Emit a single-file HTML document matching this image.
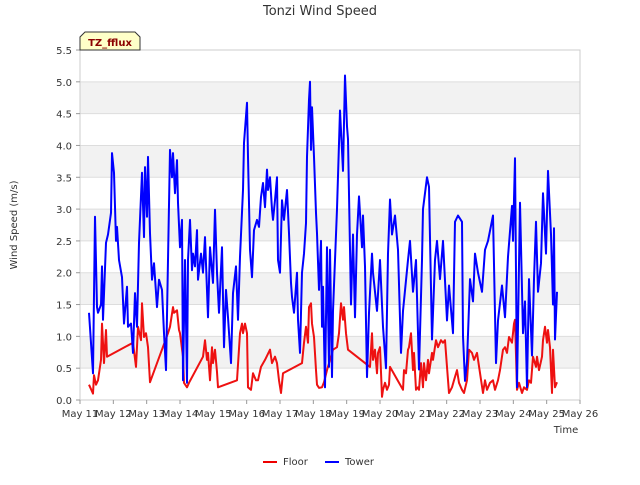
<!DOCTYPE html>
<html><head><meta charset="utf-8"><style>
body{margin:0;background:#fff;}
svg text{font-family:"DejaVu Sans","Liberation Sans",sans-serif;}
</style></head><body>
<svg id="chart" width="640" height="480" xmlns="http://www.w3.org/2000/svg">
<text x="320" y="15" text-anchor="middle" font-size="13" fill="#333">Tonzi Wind Speed</text>
<g id="bands"></g>
<g id="grid"></g>
<rect x="80" y="50" width="500" height="350" fill="none" stroke="#ccc"/>
<g id="yticks"></g>
<g id="xticks"></g>
<g id="series"></g>
<text transform="translate(17,225) rotate(-90)" text-anchor="middle" font-size="10" fill="#333">Wind Speed (m/s)</text>
<text x="566" y="433" text-anchor="middle" font-size="10" fill="#333">Time</text>
<g>
<path d="M80,50 L80,37 L85,32 L135,32 L140,37 L140,50 Z" fill="#ffffc8" stroke="#333"/>
<text x="110" y="46" text-anchor="middle" font-size="10" font-weight="bold" fill="#8b0000">TZ_fflux</text>
</g>
<g>
<g>
<line x1="263" y1="462" x2="277" y2="462" stroke="#e00" stroke-width="2"/>
<text x="283" y="465" font-size="10" fill="#333">Floor</text></g>
<g>
<line x1="325" y1="462" x2="339" y2="462" stroke="#00f" stroke-width="2"/>
<text x="345" y="465" font-size="10" fill="#333">Tower</text></g>
</g>
</svg>
<script>
const xTickLabels=["May 11","May 12","May 13","May 14","May 15","May 16","May 17","May 18","May 19","May 20","May 21","May 22","May 23","May 24","May 25","May 26"];
const yTickValues=[0,0.5,1,1.5,2,2.5,3,3.5,4,4.5,5,5.5];
const towerT=[11.27,11.39,11.45,11.51,11.54,11.63,11.66,11.69,11.78,11.84,11.93,11.96,12.02,12.08,12.11,12.17,12.26,12.32,12.41,12.44,12.53,12.59,12.65,12.71,12.77,12.86,12.92,12.95,13.01,13.04,13.10,13.16,13.22,13.31,13.37,13.46,13.52,13.58,13.64,13.70,13.76,13.79,13.85,13.91,13.94,14.00,14.06,14.09,14.15,14.21,14.24,14.30,14.36,14.39,14.45,14.51,14.54,14.63,14.69,14.75,14.84,14.90,14.99,15.05,15.11,15.17,15.26,15.32,15.38,15.44,15.53,15.59,15.68,15.74,15.80,15.89,15.92,16.01,16.04,16.10,16.16,16.22,16.31,16.37,16.43,16.49,16.55,16.61,16.64,16.70,16.76,16.79,16.85,16.91,16.94,17.00,17.06,17.12,17.21,17.27,17.33,17.36,17.42,17.51,17.54,17.60,17.66,17.72,17.78,17.81,17.87,17.90,17.93,17.96,18.02,18.08,18.11,18.17,18.23,18.26,18.29,18.35,18.41,18.47,18.50,18.56,18.59,18.71,18.80,18.89,18.95,19.01,19.04,19.13,19.19,19.25,19.31,19.37,19.46,19.49,19.55,19.61,19.67,19.76,19.79,19.91,20.00,20.09,20.18,20.24,20.30,20.36,20.45,20.54,20.63,20.69,20.84,20.90,20.99,21.08,21.17,21.26,21.29,21.41,21.47,21.56,21.65,21.71,21.80,21.89,22.01,22.07,22.19,22.25,22.34,22.46,22.49,22.55,22.61,22.70,22.79,22.85,22.94,23.06,23.15,23.24,23.39,23.48,23.54,23.66,23.75,23.84,23.96,23.99,24.05,24.11,24.20,24.29,24.35,24.41,24.47,24.56,24.62,24.68,24.74,24.83,24.89,24.98,25.04,25.13,25.19,25.22,25.25,25.31];
const towerV=[1.37,0.42,2.88,1.46,1.37,1.5,2.1,1.26,2.47,2.6,2.94,3.88,3.57,2.5,2.72,2.2,1.93,1.2,1.78,1.15,1.2,0.74,1.68,1.15,2.47,3.57,2.56,3.66,2.88,3.82,2.62,1.89,2.15,1.46,1.89,1.73,1.05,0.47,2.2,3.93,3.5,3.88,3.25,3.77,3.1,2.4,2.83,0.31,2.2,0.27,2.2,2.83,2.04,2.3,2.1,2.67,1.89,2.3,2.0,2.56,1.3,2.4,1.84,2.99,2.0,1.37,2.4,0.83,1.73,1.3,0.58,1.68,2.1,1.26,2.25,3.3,4.04,4.67,3.82,2.36,1.93,2.67,2.83,2.72,3.19,3.41,3.03,3.62,3.3,3.5,2.99,2.83,3.14,3.5,2.2,2.0,3.14,2.83,3.3,2.62,1.84,1.62,1.37,2.0,1.26,0.74,2.0,2.3,2.78,3.82,4.72,5.0,3.93,4.6,3.82,2.94,2.62,1.73,2.5,1.15,1.78,0.2,2.4,0.52,2.36,0.36,1.4,3.0,4.55,3.6,5.1,4.3,4.1,1.5,2.6,1.3,2.6,3.2,2.4,2.9,2.1,0.36,1.37,2.3,2.0,1.4,2.2,1.15,0.5,2.3,3.15,2.6,2.9,2.36,0.74,1.4,2.2,2.5,1.7,2.2,0.48,2.2,3.0,3.5,3.35,0.95,2.2,2.5,1.9,2.5,1.25,1.8,1.05,2.8,2.9,2.8,1.0,0.3,0.6,1.9,1.55,2.3,2.0,1.7,2.36,2.5,2.9,0.58,1.25,1.8,1.3,2.25,3.05,2.5,3.8,0.2,3.1,1.05,1.55,0.2,1.9,0.7,1.9,2.8,1.7,2.15,3.25,2.3,3.6,2.6,1.5,2.7,0.95,1.7];
const floorT=[11.27,11.39,11.42,11.48,11.54,11.63,11.66,11.72,11.78,11.81,12.59,12.68,12.74,12.83,12.86,12.92,12.98,13.04,13.10,13.64,13.70,13.79,13.82,13.91,13.97,14.00,14.09,14.12,14.21,14.27,14.69,14.75,14.81,14.84,14.90,14.96,14.99,15.05,15.11,15.14,15.71,15.80,15.86,15.89,15.95,16.01,16.04,16.13,16.19,16.28,16.34,16.43,16.55,16.70,16.76,16.85,16.91,16.97,17.03,17.09,17.66,17.72,17.78,17.84,17.87,17.93,17.96,18.02,18.08,18.11,18.17,18.26,18.32,18.41,18.50,18.59,18.71,18.77,18.83,18.89,18.92,18.98,19.04,19.70,19.76,19.79,19.85,19.91,19.94,20.00,20.06,20.09,20.15,20.21,20.27,20.30,20.69,20.72,20.78,20.84,20.87,20.93,20.99,21.02,21.08,21.14,21.17,21.23,21.29,21.32,21.38,21.44,21.47,21.56,21.59,21.68,21.74,21.83,21.89,21.95,22.01,22.07,22.16,22.22,22.31,22.37,22.46,22.52,22.61,22.67,22.76,22.82,22.91,23.09,23.15,23.21,23.30,23.39,23.45,23.54,23.60,23.69,23.75,23.81,23.87,23.96,24.02,24.05,24.11,24.17,24.26,24.32,24.41,24.47,24.53,24.59,24.68,24.71,24.77,24.86,24.89,24.95,25.01,25.04,25.10,25.16,25.19,25.25,25.31];
const floorV=[0.24,0.1,0.39,0.24,0.31,0.63,1.2,0.58,1.1,0.68,0.9,0.52,1.15,0.94,1.52,0.99,1.05,0.83,0.28,1.05,1.15,1.46,1.37,1.41,1.1,1.05,0.68,0.27,0.2,0.27,0.68,0.94,0.63,0.74,0.31,0.83,0.58,0.79,0.44,0.2,0.31,1.05,1.2,1.05,1.2,1.05,0.2,0.16,0.42,0.31,0.31,0.52,0.63,0.79,0.58,0.68,0.58,0.31,0.11,0.42,0.58,0.9,1.15,0.9,1.46,1.52,1.2,0.99,0.47,0.24,0.19,0.2,0.28,0.47,0.63,0.79,0.83,1.05,1.52,1.26,1.46,1.05,0.79,0.52,1.05,0.63,0.79,0.42,0.74,0.83,0.05,0.16,0.27,0.16,0.24,0.52,0.16,0.47,0.42,0.79,0.83,1.05,0.47,0.74,0.16,0.2,0.16,0.58,0.2,0.58,0.31,0.63,0.42,0.74,0.63,0.94,0.83,0.94,0.9,0.94,0.52,0.11,0.2,0.31,0.47,0.27,0.16,0.11,0.31,0.79,0.74,0.63,0.74,0.11,0.31,0.16,0.27,0.31,0.16,0.31,0.47,0.79,0.83,0.74,0.99,0.9,1.2,1.26,0.16,0.27,0.11,0.2,0.16,0.31,0.27,0.68,0.52,0.68,0.47,0.68,0.94,1.15,0.9,1.1,0.83,0.11,0.79,0.2,0.28];

const NS='http://www.w3.org/2000/svg';
const X0=80,X1=580,Y0=400,Y1=50;
const xScale=d=>X0+(d-11)/15*(X1-X0);
const yScale=v=>Y0-v/5.5*(Y0-Y1);
function mk(tag,attrs,parent){const e=document.createElementNS(NS,tag);for(const k in attrs)e.setAttribute(k,attrs[k]);parent.appendChild(e);return e;}
const bands=document.getElementById('bands'),grid=document.getElementById('grid');
for(let i=0;i<yTickValues.length-1;i++){
  if(i%2===1){const r=mk('rect',{x:X0,y:yScale(yTickValues[i+1]),width:X1-X0,height:yScale(yTickValues[i])-yScale(yTickValues[i+1]),fill:'#f2f2f2'},bands);
  
  }
}
const yt=document.getElementById('yticks');
yTickValues.forEach(v=>{
  const l=mk('line',{x1:X0,x2:X1,y1:yScale(v),y2:yScale(v),stroke:'#ddd'},grid);
  
  
  mk('line',{x1:X0-4,x2:X0,y1:yScale(v),y2:yScale(v),stroke:'#999'},yt);
  const t=mk('text',{x:X0-8,y:yScale(v)+4,'text-anchor':'end','font-size':'10',fill:'#333'},yt);
  t.textContent=v.toFixed(1);
  
  
});
const xt=document.getElementById('xticks');
xTickLabels.forEach((s,i)=>{
  const x=xScale(11+i);
  mk('line',{x1:x,x2:x,y1:Y0,y2:Y0+4,stroke:'#999'},xt);
  const t=mk('text',{x:x,y:Y0+17,'text-anchor':'middle','font-size':'10',fill:'#333'},xt);
  t.textContent=s;
  
  
});
const sg=document.getElementById('series');
function line(T,V,color,name){
  const d=T.map((t,i)=>(i?'L':'M')+xScale(t).toFixed(1)+','+yScale(V[i]).toFixed(1)).join('');
  const p=mk('path',{d:d,fill:'none',stroke:color,'stroke-width':'2','stroke-linejoin':'round'},sg);
  
  
}
line(floorT,floorV,'#ee1111','floor-line');
line(towerT,towerV,'#0000ff','tower-line');
</script>
</body></html>
